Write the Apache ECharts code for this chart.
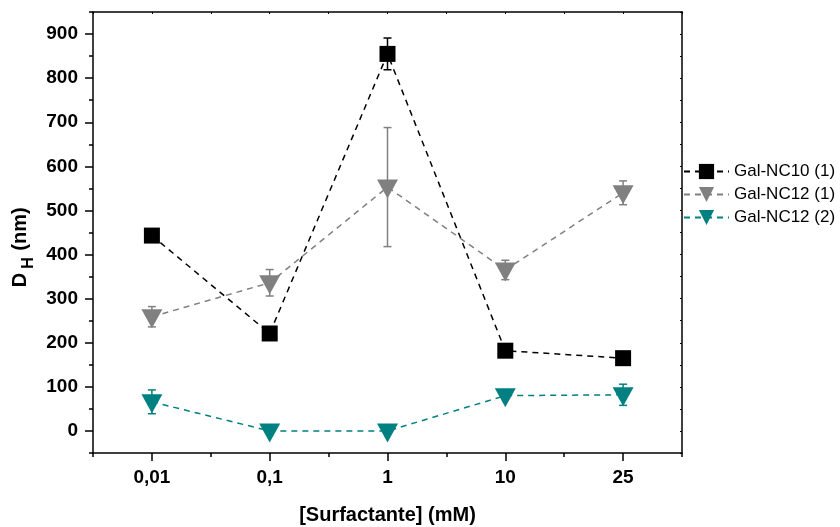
<!DOCTYPE html>
<html>
<head>
<meta charset="utf-8">
<script src="https://cdn.jsdelivr.net/npm/echarts@6/dist/echarts.min.js"></script>
<style>html,body{margin:0;padding:0;background:#fff}#c{width:840px;height:527px}</style>
</head>
<body>
<div id="c"></div>
<script>
const categories = ['0,01', '0,1', '1', '10', '25'];
const seriesNames = ['Gal-NC10 (1)', 'Gal-NC12 (1)', 'Gal-NC12 (2)'];
const nc10_1 = [443, 221, 855, 182, 165];
const nc10_1Err = [12, 5, 36, 5, 5];
const nc12_1 = [259, 336, 553, 365, 540];
const nc12_1Err = [23, 30, 135, 22, 27];
const nc12_2 = [66, 0, 0, 80, 82];
const nc12_2Err = [27, 3, 3, 5, 24];
const yTicks = [0, 100, 200, 300, 400, 500, 600, 700, 800, 900];
const xTicks = [0, 1, 2, 3, 4];

const FONT = "'Liberation Sans', Arial, sans-serif";
const colors = ['#000000', '#808080', '#008080'];
const values = [nc10_1, nc12_1, nc12_2];
const errs = [nc10_1Err, nc12_1Err, nc12_2Err];

function pts(arr) { return arr.map((v, i) => [i, v]); }
function errPts(arr, e) { return arr.map((v, i) => [i, v, e[i]]); }

const chart = echarts.init(document.getElementById('c'), null, {renderer: 'canvas'});

const lineSeries = values.map((arr, k) => ({
  name: seriesNames[k],
  type: 'line',
  xAxisIndex: 0, yAxisIndex: 0,
  data: pts(arr),
  symbol: k === 0 ? 'rect' : 'triangle',
  symbolSize: k === 0 ? 16 : [21, 19],
  symbolRotate: k === 0 ? 0 : 180,
  symbolOffset: k === 0 ? [0, 0] : [0, 2],
  showAllSymbol: true,
  itemStyle: {color: colors[k], opacity: 1},
  lineStyle: {color: colors[k], width: 1.5, type: [6, 5]},
  z: 3 + k,
  animation: false
}));

const errSeries = values.map((arr, k) => ({
  type: 'custom',
  xAxisIndex: 0, yAxisIndex: 0,
  data: errPts(arr, errs[k]),
  encode: {x: 0, y: 1},
  z: 2,
  silent: true,
  animation: false,
  renderItem: function (params, api) {
    const x = api.value(0), y = api.value(1), e = api.value(2);
    const top = api.coord([x, y + e]);
    const bot = api.coord([x, y - e]);
    const hw = 4;
    const st = {stroke: colors[k], lineWidth: 1.5};
    return {
      type: 'group',
      children: [
        {type: 'line', shape: {x1: top[0], y1: top[1], x2: bot[0], y2: bot[1]}, style: st},
        {type: 'line', shape: {x1: top[0] - hw, y1: top[1], x2: top[0] + hw, y2: top[1]}, style: st},
        {type: 'line', shape: {x1: bot[0] - hw, y1: bot[1], x2: bot[0] + hw, y2: bot[1]}, style: st}
      ]
    };
  }
}));

const axisLineStyle = {color: '#000', width: 1.5};
const tickLabel = {color: '#000', fontFamily: FONT, fontWeight: 'bold', fontSize: 19};

const option = {
  backgroundColor: '#fff',
  animation: false,
  grid: {left: 93, right: 158, top: 12, bottom: 74, containLabel: false, outerBoundsMode: 'none'},
  xAxis: [
    {
      type: 'value', min: -0.5, max: 4.5, position: 'bottom',
      axisLine: {show: true, onZero: false, lineStyle: axisLineStyle},
      axisTick: {show: true, customValues: xTicks, length: 8, inside: false, lineStyle: {color: '#000', width: 1.5}},
      axisLabel: Object.assign({show: true, customValues: xTicks, margin: 15,
        formatter: v => categories[Math.round(v)]}, tickLabel),
      splitLine: {show: false},
      name: '[Surfactante] (mM)', nameLocation: 'middle', nameGap: 52,
      nameTextStyle: {color: '#000', fontFamily: FONT, fontWeight: 'bold', fontSize: 20}
    },
    {
      type: 'value', min: -0.5, max: 4.5, interval: 0.5, position: 'bottom',
      axisLine: {show: false, onZero: false},
      axisTick: {show: true, length: 4, inside: false, lineStyle: {color: '#000', width: 1.5}},
      axisLabel: {show: false}, splitLine: {show: false}
    },
    {
      type: 'value', min: -0.5, max: 4.5, interval: 0.5, position: 'top',
      axisLine: {show: true, onZero: false, lineStyle: axisLineStyle},
      axisTick: {show: true, length: 2, inside: true, lineStyle: {color: '#000', width: 1}},
      axisLabel: {show: false}, splitLine: {show: false}
    }
  ],
  yAxis: [
    {
      type: 'value', min: -50, max: 950, position: 'left',
      axisLine: {show: true, onZero: false, lineStyle: axisLineStyle},
      axisTick: {show: true, customValues: yTicks, length: 8, inside: false, lineStyle: {color: '#000', width: 1.5}},
      axisLabel: Object.assign({show: true, customValues: yTicks, margin: 15}, tickLabel),
      splitLine: {show: false}
    },
    {
      type: 'value', min: -50, max: 950, interval: 50, position: 'left',
      axisLine: {show: false, onZero: false},
      axisTick: {show: true, length: 4, inside: false, lineStyle: {color: '#000', width: 1.5}},
      axisLabel: {show: false}, splitLine: {show: false}
    },
    {
      type: 'value', min: -50, max: 950, interval: 50, position: 'right',
      axisLine: {show: true, onZero: false, lineStyle: axisLineStyle},
      axisTick: {show: true, length: 2, inside: true, lineStyle: {color: '#000', width: 1}},
      axisLabel: {show: false}, splitLine: {show: false}
    }
  ],
  legend: {
    data: seriesNames,
    orient: 'vertical',
    left: 683, top: 163, padding: 0,
    itemWidth: 45, itemHeight: 19, itemGap: 6,
    textStyle: {color: '#000', fontFamily: FONT, fontSize: 17},
    selectedMode: false
  },
  graphic: [
    {type: 'text', x: 20.5, y: 280, rotation: Math.PI / 2,
     style: {text: 'D', fontFamily: FONT, fontWeight: 'bold', fontSize: 20, fill: '#000', align: 'center', verticalAlign: 'middle'}},
    {type: 'text', x: 29, y: 263, rotation: Math.PI / 2,
     style: {text: 'H', fontFamily: FONT, fontWeight: 'bold', fontSize: 16, fill: '#000', align: 'center', verticalAlign: 'middle'}},
    {type: 'text', x: 20.5, y: 229, rotation: Math.PI / 2,
     style: {text: '(nm)', fontFamily: FONT, fontWeight: 'bold', fontSize: 20, fill: '#000', align: 'center', verticalAlign: 'middle'}}
  ],
  series: errSeries.concat(lineSeries)
};
chart.setOption(option);
</script>
</body>
</html>
